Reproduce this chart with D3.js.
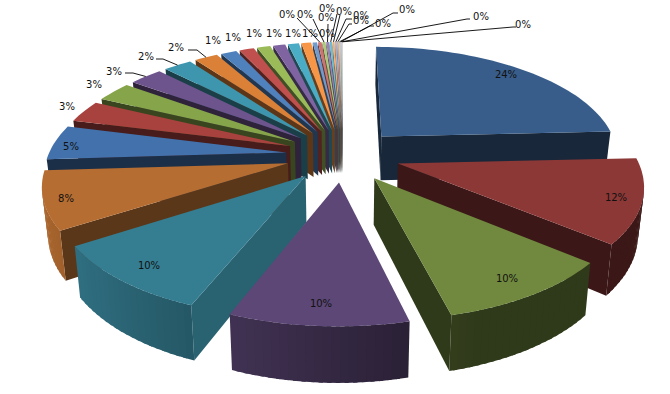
<!DOCTYPE html>
<html>
<head>
<meta charset="utf-8">
<script src="https://d3js.org/d3.v7.min.js"></script>
<style>
body { margin: 0; background: #fff; }
text { font-family: "DejaVu Sans", sans-serif; font-size: 10px; fill: #111; }
</style>
</head>
<body>
<div id="chart"></div>
<script>
// valeurs, dans l'ordre du camembert
var values = [24.6, 12, 10.2, 10, 10, 8.3, 5, 3.2, 2.9, 2.7, 2.3, 1.9,
              1.3, 1.2, 1.1, 1, 0.9, 0.8,
              0.35, 0.3, 0.25, 0.22, 0.2, 0.17, 0.14, 0.12, 0.1, 0.08, 0.06, 0.04];
var pieLabels = ["24%", "12%", "10%", "10%", "10%", "8%", "5%", "3%", "3%", "3%", "2%", "2%",
                 "1%", "1%", "1%", "1%", "1%", "1%",
                 "0%", "0%", "0%", "0%", "0%", "0%", "0%", "0%", "0%", "0%", "0%", "0%"];
var colors = ["#385d8a", "#8c3836", "#71893f", "#5c4776", "#357d91", "#b66d31",
              "#4271ac", "#a8423f", "#86a44a", "#6e548d", "#3d96ae", "#da8137",
              "#4f81bd", "#c0504d", "#9bbb59", "#8064a2", "#4bacc6", "#f79646",
              "#729aca", "#cd7371", "#afc97a", "#9983b5", "#6fbdd1", "#f9ab6b",
              "#95b3d7", "#d99694", "#c3d69b", "#b2a1c7", "#92cddc", "#fac090"];

// mise en page des étiquettes (centre du texte), séparée des données
var labelAt = [[506,74],[616,197],[507,278],[321,303],[149,265],[66,198],[71,146],[67,106],[94,84],[114,71],[146,56],[176,47],
               [213,40],[233,37],[254,33],[274,33],[293,33],[310,33],
               [327,33],[287,14],[305,14],[326,17],[327,8],[344,11],[361,15],[361,20],[383,23],[407,9],[481,16],[523,24]];
// coude des traits de rappel, pour les petites parts
var elbowAt = {9:[[125,73],[133,73]], 10:[[156,59],[163,59]], 11:[[188,50],[197,50]],
               19:[[297,18],[297,18]], 20:[[313,19],[313,19]], 21:[[328,24],[328,24]], 22:[[337,14],[337,14]],
               23:[[340,15],[340,15]], 24:[[352,19],[346,19]], 25:[[352,24],[349,24]], 26:[[374,26],[370,26]],
               27:[[398,13],[393,13]], 28:[[470,19],[467,19]], 29:[[516,27],[513,27]]};

// teinte des parois planes (1 = couleur du dessus)
var wallShade = [0.42, 0.42, 0.42, 0.55, 0.78, 0.5];

var width = 670, height = 394;
var cx = 343, cy = 155;
var rx = 238, ry = 110, depth = 45;
var persp = 0.165; // force de la perspective
var explode = 0.24;

var svg = d3.select("#chart").append("svg")
    .attr("width", width)
    .attr("height", height);

var pie = d3.pie().sort(null).value(function(d) { return d; });
var arcs = pie(values);

// sol (u vers la droite, v vers le fond) -> écran
function project(u, v, z) {
    var s = 1 / (1 + persp * v);
    var x = rx * u * s * (1 - 0.02 * z);
    return [cx + x, cy - ry * v * s + depth * z * s];
}

function offset(d) {
    var mid = (d.startAngle + d.endAngle) / 2;
    return [explode * Math.sin(mid), explode * Math.cos(mid)];
}

function pt(d, angle, r, z) {
    var o = offset(d);
    return project(o[0] + r * Math.sin(angle), o[1] + r * Math.cos(angle), z);
}

// une face est vue si sa normale regarde la caméra
function faces(d, angle, nu, nv, r) {
    var o = offset(d);
    var u = o[0] + r * Math.sin(angle), v = o[1] + r * Math.cos(angle);
    return u * nu + (v + 1 / persp) * nv < 0;
}

function shade(col, f) {
    var c = d3.rgb(col);
    return d3.rgb(c.r * f, c.g * f, c.b * f).formatHex();
}

var line = d3.line();
var order = arcs.slice().sort(function(a, b) {
    return Math.cos((b.startAngle + b.endAngle) / 2) - Math.cos((a.startAngle + a.endAngle) / 2);
});

order.forEach(function(d) {
    var g = svg.append("g");
    var col = colors[d.index];
    var wall = shade(col, d.index < wallShade.length ? wallShade[d.index] : 0.42);
    var a0 = d.startAngle, a1 = d.endAngle;

    function quad(p, c) {
        g.append("path").attr("d", line(p) + "Z").attr("fill", c);
    }

    if (faces(d, a0, -Math.cos(a0), Math.sin(a0), 0)) {
        quad([pt(d, a0, 0, 0), pt(d, a0, 1, 0), pt(d, a0, 1, 1), pt(d, a0, 0, 1)], wall);
    }
    if (faces(d, a1, Math.cos(a1), -Math.sin(a1), 0)) {
        quad([pt(d, a1, 0, 0), pt(d, a1, 1, 0), pt(d, a1, 1, 1), pt(d, a1, 0, 1)], wall);
    }

    var n = Math.max(2, Math.ceil((a1 - a0) / 0.03));
    d3.range(n).forEach(function(i) {
        // chaque bande mord sur la suivante pour éviter les raccords visibles
        var t0 = a0 + (a1 - a0) * i / n, t1 = a0 + (a1 - a0) * Math.min(n, i + 1.5) / n, tm = (t0 + t1) / 2;
        if (!faces(d, tm, Math.sin(tm), Math.cos(tm), 1)) return;
        var f = Math.max(0.42, Math.min(0.97, 0.55 - 0.4 * Math.sin(tm)));
        quad([pt(d, t0, 1, 0), pt(d, t1, 1, 0), pt(d, t1, 1, 1), pt(d, t0, 1, 1)], shade(col, f));
    });

    var top = [pt(d, a0, 0, 0)];
    d3.range(n + 1).forEach(function(i) {
        top.push(pt(d, a0 + (a1 - a0) * i / n, 1, 0));
    });
    g.append("path").attr("d", line(top) + "Z").attr("fill", col);
});

// traits de rappel
arcs.forEach(function(d) {
    var e = elbowAt[d.index];
    if (!e) return;
    var mid = (d.startAngle + d.endAngle) / 2;
    svg.append("path")
        .attr("d", line([e[0], e[1], pt(d, mid, 1, 0)]))
        .attr("fill", "none")
        .attr("stroke", "#000")
        .attr("stroke-width", 0.9);
});

svg.selectAll("text.lab").data(arcs).enter().append("text")
    .attr("class", "lab")
    .attr("x", function(d) { return labelAt[d.index][0]; })
    .attr("y", function(d) { return labelAt[d.index][1]; })
    .attr("text-anchor", "middle")
    .attr("dominant-baseline", "central")
    .text(function(d) { return pieLabels[d.index]; });
</script>
</body>
</html>
